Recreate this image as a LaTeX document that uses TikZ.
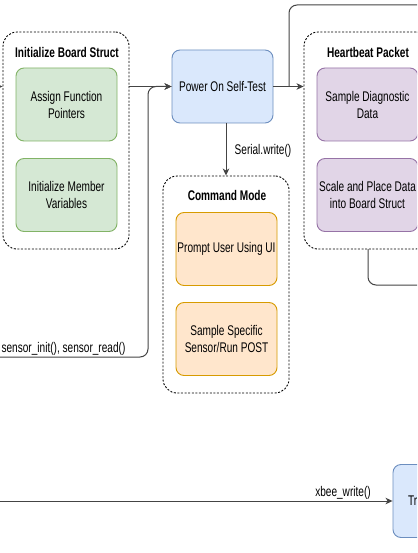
\documentclass[tikz,border=0pt]{standalone}
\usepackage{fontspec}
\setmainfont{Liberation Sans}[FakeStretch=0.72]
\usetikzlibrary{arrows.meta,calc}
\definecolor{gfill}{HTML}{D5E8D4}\definecolor{gdraw}{HTML}{82B366}
\definecolor{bfill}{HTML}{DAE8FC}\definecolor{bdraw}{HTML}{6C8EBF}
\definecolor{ofill}{HTML}{FFE6CC}\definecolor{odraw}{HTML}{D79B00}
\definecolor{pfill}{HTML}{E1D5E7}\definecolor{pdraw}{HTML}{9673A6}
\definecolor{linegray}{HTML}{444444}
\begin{document}
\begin{tikzpicture}[x=1pt,y=-1pt,font=\fontsize{14}{17}\selectfont,
  container/.style={draw=black,dash pattern=on 2pt off 1.6pt,line width=0.9pt,rounded corners=14pt,minimum width=126pt,minimum height=217pt,inner sep=0pt},
  ctitle/.style={font=\fontsize{14}{17}\selectfont\bfseries,inner sep=1pt},
  box/.style={rounded corners=8pt,minimum width=101pt,minimum height=73pt,align=center,inner xsep=1pt,inner ysep=2pt,line width=0.9pt},
  greenbox/.style={box,fill=gfill,draw=gdraw},
  bluebox/.style={box,fill=bfill,draw=bdraw},
  orangebox/.style={box,fill=ofill,draw=odraw},
  purplebox/.style={box,fill=pfill,draw=pdraw},
  conn/.style={draw=linegray,line width=1pt},
  arr/.style={conn,-{Stealth[length=7pt,width=6.5pt,inset=2pt]},color=linegray},
  lbl/.style={inner sep=1pt}]
\useasboundingbox (0,0) rectangle (417,553);
\clip (0,0) rectangle (417,553);
\fill[white] (0,0) rectangle (417,553);

% containers
\node[container] (ibs) at (66,140.5) {};
\node[ctitle] (ibst) at (67,52) {Initialize Board Struct};
\node[container] (cmd) at (226,284.5) {};
\node[ctitle] (cmdt) at (227,195) {Command Mode};
\node[container] (hb) at (367,140.5) {};
\node[ctitle] (hbt) at (368,52) {Heartbeat Packet};

% boxes
\node[greenbox] (afp) at (66.5,104.5) {Assign Function\\Pointers};
\node[greenbox] (imv) at (66.5,195) {Initialize Member\\Variables};
\node[bluebox] (pow) at (222.5,86.5) {Power On Self-Test};
\node[orangebox] (pui) at (226.5,249) {Prompt User Using UI};
\node[orangebox] (sss) at (226.5,339) {Sample Specific\\Sensor/Run POST};
\node[purplebox] (sdd) at (367.5,104.5) {Sample Diagnostic\\Data};
\node[purplebox] (spd) at (367.5,195) {Scale and Place Data\\into Board Struct};
\node[bluebox,text width=71pt,align=left,inner xsep=15pt] (tx) at (443.5,501) {Tr};

% connectors
\coordinate (inL) at (-20,86.5);
\draw[arr] (inL) -- (inL -| ibs.west);
\draw[arr] (ibs.east |- pow.west) -- (pow.west);
\coordinate (sL) at (-20,357);
\coordinate (sC) at (148,357);
\draw[arr,rounded corners=8pt] (sL) -- (sC) -- (sC |- pow.west) -- (pow.west);
\node[lbl] (sl) at (63.5,349) {sensor\_init(), sensor\_read()};

\draw[arr] (pow.east) -- (pow.east -| hb.west);
\coordinate (tR) at (440,5);
\coordinate (tC) at (289,5);
\draw[conn,rounded corners=8pt] (tR) -- (tC) -- (tC |- pow.east);

\coordinate (pd) at (226,123);
\draw[arr] (pd) -- (pd |- cmd.north);
\node[lbl] (swl) at (263,151) {Serial.write()};

\coordinate (hbB) at (368,249);
\coordinate (hbR) at (440,285);
\draw[conn,rounded corners=8pt] (hbB) -- (hbB |- hbR) -- (hbR);

\coordinate (bL) at (-20,501);
\draw[arr] (bL) -- (tx.west);
\node[lbl] (xwl) at (343,493) {xbee\_write()};
\end{tikzpicture}
\end{document}
